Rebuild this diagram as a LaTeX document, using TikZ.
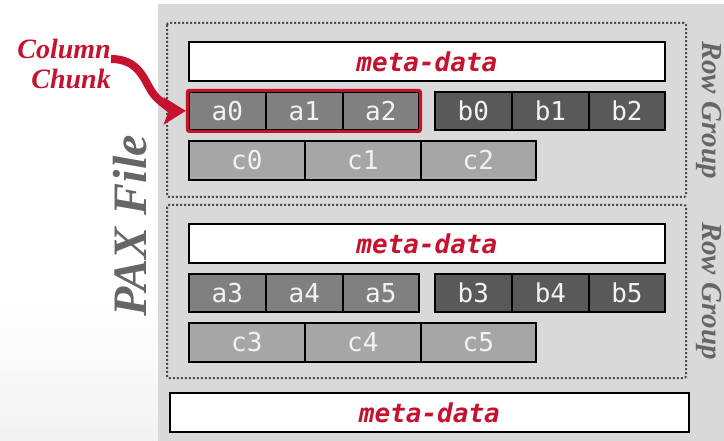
\documentclass[tikz,border=0pt]{standalone}
\usepackage{fontspec}
\setmainfont{Liberation Serif}
\newfontfamily\cellfont{DejaVu Sans Mono}
\usetikzlibrary{arrows.meta,fit}
\definecolor{panel}{HTML}{D9D9D9}
\definecolor{crim}{HTML}{C4122F}
\definecolor{labgray}{HTML}{666666}
\definecolor{acol}{HTML}{808080}
\definecolor{bcol}{HTML}{595959}
\definecolor{ccol}{HTML}{A6A6A6}
\begin{document}
\begin{tikzpicture}[x=1pt,y=-1pt,
  cell/.style={draw=black, line width=1.8pt, inner sep=0pt, anchor=north west,
    text=white!95!black, font=\cellfont\fontsize{26}{26}\selectfont},
  acell/.style={cell, fill=acol, minimum width=77pt, minimum height=38pt},
  bcell/.style={cell, fill=bcol, minimum width=77pt, minimum height=38pt},
  ccell/.style={cell, fill=ccol, minimum width=116pt, minimum height=39pt},
  metabox/.style={draw=black, line width=1.8pt, fill=white, inner sep=0pt, anchor=north west,
    minimum height=39pt, text=crim, font=\cellfont\bfseries\itshape\fontsize{26}{26}\selectfont},
  groupbox/.style={draw=black!70, line width=2pt, dash pattern=on 2pt off 2pt,
    rounded corners=2pt},
  sidelabel/.style={text=labgray, font=\bfseries\itshape\fontsize{29}{29}\selectfont, rotate=-90},
]
% canvas
\useasboundingbox (0,0) rectangle (724,441);
\shade[top color=white, bottom color=black!5] (0,300) rectangle (158,441);
\fill[panel] (158,4) rectangle (724,441);

% row group outlines
\draw[groupbox] (167,23) rectangle (686,197);
\draw[groupbox] (167,205) rectangle (686,378);

% first row group
\node[metabox, minimum width=476pt] (m1) at (188,41) {meta-data};
\node[acell] (a0) at (188,91) {a0};
\node[acell] (a1) at (265,91) {a1};
\node[acell, minimum width=76pt] (a2) at (342,91) {a2};
\node[bcell] (b0) at (434,91) {b0};
\node[bcell] (b1) at (511,91) {b1};
\node[bcell, minimum width=76pt] (b2) at (588,91) {b2};
\node[ccell] (c0) at (188,140) {c0};
\node[ccell] (c1) at (304,140) {c1};
\node[ccell, minimum width=115pt] (c2) at (420,140) {c2};

% second row group
\node[metabox, minimum width=476pt] (m2) at (188,223) {meta-data};
\node[acell] (a3) at (188,273) {a3};
\node[acell] (a4) at (265,273) {a4};
\node[acell, minimum width=76pt] (a5) at (342,273) {a5};
\node[bcell] (b3) at (434,273) {b3};
\node[bcell] (b4) at (511,273) {b4};
\node[bcell, minimum width=76pt] (b5) at (588,273) {b5};
\node[ccell] (c3) at (188,322) {c3};
\node[ccell] (c4) at (304,322) {c4};
\node[ccell, minimum width=115pt] (c5) at (420,322) {c5};

% file footer
\node[metabox, minimum width=519pt] (m3) at (169,392) {meta-data};

% highlighted column chunk
\node[fit=(a0)(a2), draw=crim, line width=3.2pt, rounded corners=2pt, inner sep=0.6pt] (chunk) {};

% labels
\node[sidelabel] (rg1) at (709,110) {Row Group};
\node[sidelabel] (rg2) at (709,291) {Row Group};
\node[text=labgray, font=\bfseries\itshape\fontsize{48}{48}\selectfont, rotate=90] (pax) at (130,226) {PAX File};
\node[text=crim, font=\bfseries\itshape\fontsize{28}{30}\selectfont, align=right, anchor=east, inner sep=0pt] (cc) at (111,64) {Column\\Chunk};

% pointer
\coordinate (start) at ([yshift=5pt]cc.east);
\draw[crim, line width=8pt, -{Stealth[length=22pt, width=27pt, inset=5pt]}]
  (start) .. controls +(28,0) and +(-8,-12) .. (152,92)
          .. controls +(6,10) and +(-10,0) .. (chunk.west);
\end{tikzpicture}
\end{document}
